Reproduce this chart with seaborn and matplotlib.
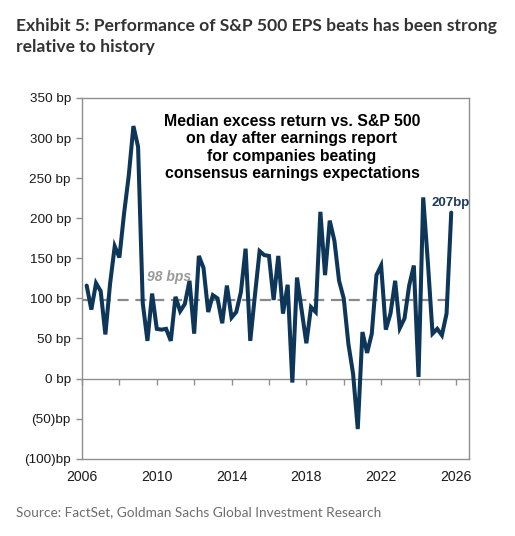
import numpy as np
import pandas as pd
import matplotlib
matplotlib.use("Agg")
import matplotlib.pyplot as plt
import seaborn as sns

# ---------------- data ----------------
quarters = np.arange(2006.25, 2025.76, 0.25)  # quarterly observations
excess_bp = [116, 86, 119, 109, 55, 118, 165, 151, 206, 253,
             315, 289, 94, 47, 106, 62, 61, 62, 47, 102,
             84, 93, 122, 56, 153, 138, 83, 104, 100, 69,
             116, 76, 83, 108, 162, 47, 104, 159, 154, 153,
             98, 153, 81, 117, -5, 126, 85, 44, 89, 83,
             208, 129, 197, 172, 122, 100, 43, 6, -63, 58,
             32, 56, 129, 141, 61, 81, 122, 63, 75, 116,
             141, 2, 226, 145, 56, 62, 54, 81, 207]
average_bp = 98
y_ticks = [-100, -50, 0, 50, 100, 150, 200, 250, 300, 350]
y_tick_labels = ["(100)bp", "(50)bp", "0 bp", "50 bp", "100 bp", "150 bp",
                 "200 bp", "250 bp", "300 bp", "350 bp"]
year_labels = [2006, 2010, 2014, 2018, 2022, 2026]
tick_years = list(range(2006, 2027, 2))

title = ("Exhibit 5: Performance of S&P 500 EPS beats has been strong\n"
         "relative to history")
note = ("Median excess return vs. S&P 500\non day after earnings report\n"
        "for companies beating\nconsensus earnings expectations")
source = "Source: FactSet, Goldman Sachs Global Investment Research"
avg_label = "98 bps"
last_label = "207bp"

# ---------------- style ----------------
sns.set_style("white")
plt.rcParams["font.family"] = ["Liberation Sans", "DejaVu Sans"]

W, H = 515, 536
fig = plt.figure(figsize=(W / 100, H / 100), dpi=100)
L, R, T, B = 82, 469, 98, 458.7
ax = fig.add_axes([L / W, 1 - B / H, (R - L) / W, (B - T) / H])

line_color = "#0d3658"
grey = "#8f8f8f"

df = pd.DataFrame({"quarter": quarters, "excess": excess_bp})
sns.lineplot(data=df, x="quarter", y="excess", ax=ax, color=line_color,
             linewidth=2.9, solid_joinstyle="miter")

ax.set_xlim(2006, 2026.7)
ax.set_ylim(-100, 350)

ax.hlines(average_bp, 2006, quarters[-1], colors="#8a8a8a",
          linestyles=(0, (5, 3)), linewidth=1.6, zorder=1)

for s in ax.spines.values():
    s.set_color(grey)
    s.set_linewidth(1.0)

ax.set_yticks(y_ticks)
ax.set_yticklabels(y_tick_labels)
ax.tick_params(axis="y", direction="out", length=4, width=1, color=grey,
               pad=4, labelsize=9.7, labelcolor="#1a1a1a", left=True)
ax.set_xticks(year_labels)
ax.set_xticklabels([str(y) for y in year_labels])
ax.tick_params(axis="x", length=0, pad=8, labelsize=10.2, labelcolor="#1a1a1a")
ax.set_xlabel("")
ax.set_ylabel("")

# zero line with year ticks
zero_frac = (0 - (-100)) / (350 - (-100))
sec = ax.secondary_xaxis(zero_frac)
sec.set_xticks(tick_years)
sec.set_xticklabels([])
sec.tick_params(direction="out", length=4, width=1, color=grey)
for s in sec.spines.values():
    s.set_color(grey)
    s.set_linewidth(1.0)

# annotations
ax.text(2009.45, 127, avg_label, fontsize=10, fontstyle="italic",
        fontweight="bold", color="#999999", va="center", ha="left")
ax.text(2024.68, 219, last_label, fontsize=9.5, fontweight="bold",
        color="#1b3a5c", va="center", ha="left")

fig.text(292 / W, 1 - 113.5 / H, note, ha="center", va="top", fontsize=11.4,
         fontweight="bold", color="#000000", linespacing=1.22)

fig.text(16 / W, 1 - 18 / H, title, ha="left", va="top", fontsize=12.6,
         fontweight="bold", family=["Lato", "DejaVu Sans"], color="#333333",
         linespacing=1.42)
fig.text(16 / W, 1 - 512 / H, source, ha="left", va="center", fontsize=9.8,
         family=["Lato", "DejaVu Sans"], color="#6d6d6d")

fig.savefig("out.png", dpi=100)
